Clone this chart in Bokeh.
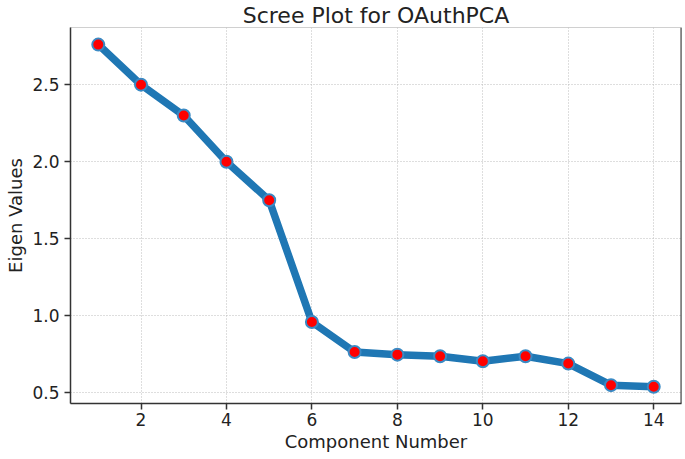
from bokeh.plotting import figure
from bokeh.models import FixedTicker, Range1d, PrintfTickFormatter, Span
from bokeh.embed import file_html
from bokeh.resources import INLINE

components = [1, 2, 3, 4, 5, 6, 7, 8, 9, 10, 11, 12, 13, 14]
eigen_values = [2.76, 2.50, 2.30, 2.00, 1.75, 0.96, 0.765, 0.748, 0.738, 0.705,
                0.738, 0.69, 0.55, 0.54]
x_ticks = [2, 4, 6, 8, 10, 12, 14]
y_ticks = [0.5, 1.0, 1.5, 2.0, 2.5]
title_text = "Scree Plot for OAuthPCA"

FONT = "DejaVu Sans"
DARK = "#333333"
X0, X1 = 0.35, 14.65
Y0, Y1 = 0.431, 2.871

p = figure(width=685, height=459, output_backend="svg", toolbar_location=None,
           x_range=Range1d(X0, X1), y_range=Range1d(Y0, Y1),
           min_border_left=70, min_border_right=4, min_border_top=26,
           min_border_bottom=56, title=title_text)

p.title.text_font = FONT
p.title.text_font_size = "22px"
p.title.text_font_style = "normal"
p.title.text_color = "#222222"
p.title.align = "center"
p.title.standoff = 0
p.title.offset = 0

p.outline_line_color = "#d0d0d0"
p.outline_line_width = 1

for ax in (p.xaxis[0], p.yaxis[0]):
    ax.axis_line_color = DARK
    ax.axis_line_width = 1.5
    ax.major_tick_line_color = DARK
    ax.major_tick_line_width = 1.5
    ax.major_tick_out = 6
    ax.major_tick_in = 0
    ax.minor_tick_line_color = None
    ax.major_label_text_font = FONT
    ax.major_label_text_font_size = "17px"
    ax.major_label_text_color = "#222222"
    ax.axis_label_text_font = FONT
    ax.axis_label_text_font_size = "18px"
    ax.axis_label_text_font_style = "normal"
    ax.axis_label_text_color = "#222222"

p.xaxis.ticker = FixedTicker(ticks=x_ticks)
p.yaxis.ticker = FixedTicker(ticks=y_ticks)
p.yaxis.formatter = PrintfTickFormatter(format="%.1f")
p.xaxis.axis_label = "Component Number"
p.yaxis.axis_label = "Eigen Values"
p.xaxis.axis_label_standoff = 2
p.yaxis.axis_label_standoff = 3
p.xaxis.major_label_standoff = 3
p.yaxis.major_label_standoff = 5

p.add_layout(Span(location=X1, dimension="height", line_color=DARK,
                  line_width=2, level="overlay"))

p.xgrid.ticker = FixedTicker(ticks=x_ticks)
p.ygrid.ticker = FixedTicker(ticks=y_ticks)
for g in (p.xgrid[0], p.ygrid[0]):
    g.grid_line_color = "#bdbdbd"
    g.grid_line_dash = "1 2"
    g.grid_line_width = 1

p.line(components, eigen_values, line_color="#1f77b4", line_width=7.5,
       line_join="round", line_cap="round")
p.scatter(components, eigen_values, marker="circle", size=12,
          fill_color="#ff0000", line_color="#3a8ac4", line_width=2)

open("out.html", "w").write(file_html(p, INLINE))
